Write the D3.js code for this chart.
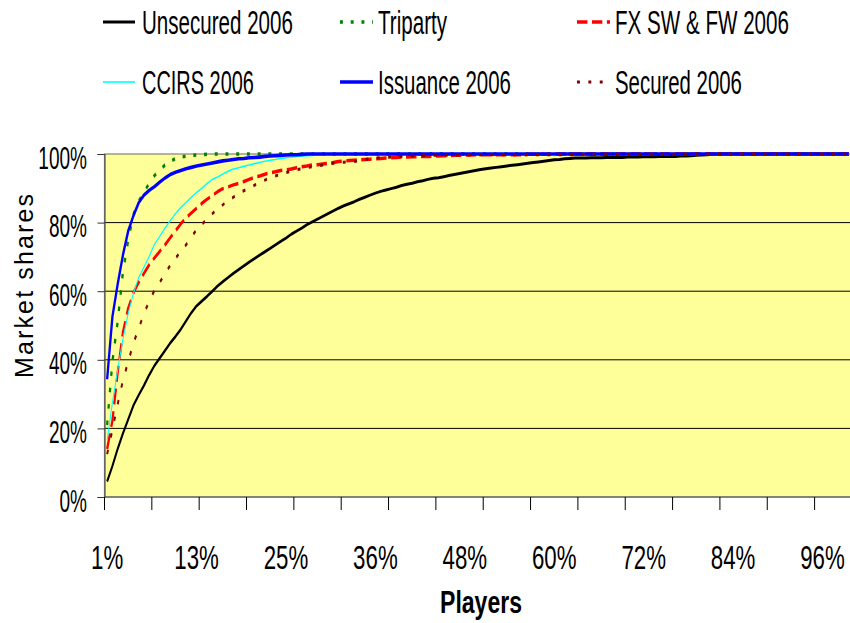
<!DOCTYPE html>
<html><head><meta charset="utf-8">
<script src="https://cdn.jsdelivr.net/npm/d3@7"></script>
<style>html,body{margin:0;padding:0;background:#fff}svg{display:block}</style>
</head><body>
<script>
// ---------------- DATA ----------------
const nCategories = 142;                       // player percentile categories
const categories = d3.range(1, nCategories + 1);
const tickLabelIndex = [1, 18, 35, 52, 69, 86, 103, 120, 137];
const tickLabels = ["1%", "13%", "25%", "36%", "48%", "60%", "72%", "84%", "96%"];
const yTickValues = [0, 20, 40, 60, 80, 100];
const yTickLabels = ["0%", "20%", "40%", "60%", "80%", "100%"];
const seriesNames = ["Unsecured 2006", "Triparty", "FX SW & FW 2006", "CCIRS 2006", "Issuance 2006", "Secured 2006"];

const unsecured = [4.5,9,14,18.5,22.6,26.7,29.7,32.5,35.6,38.3,
 40.5,42.7,44.9,46.8,48.9,51.3,53.7,55.7,57.1,58.5,
 60,61.5,62.8,64,65.2,66.3,67.4,68.5,69.5,70.5,
 71.5,72.5,73.5,74.5,75.5,76.6,77.5,78.4,79.4,80.2,
 81,81.8,82.6,83.4,84.2,84.9,85.5,86.1,86.8,87.4,
 88,88.6,89.1,89.5,89.9,90.3,90.8,91.2,91.5,91.9,
 92.2,92.6,92.9,93.1,93.4,93.7,94,94.3,94.6,94.9,
 95.2,95.5,95.7,95.9,96.1,96.3,96.5,96.7,96.9,97.1,
 97.3,97.5,97.7,97.9,98.1,98.3,98.4,98.6,98.7,98.8,
 98.8,98.8,98.9,98.9,98.9,99,99,99,99,99.1,
 99.1,99.1,99.2,99.2,99.2,99.3,99.3,99.3,99.3,99.4,
 99.4,99.5,99.6,99.7,99.8,99.9,100,100,100,100,
 100,100,100,100,100,100,100,100,100,100,
 100,100,100,100,100,100,100,100,100,100,
 100,100];

const triparty = [21,39.5,51,65.5,74.8,82.4,86.2,88.9,91.4,93.7,
 95.3,96.8,97.8,98.7,99.1,99.4,99.6,99.7,99.8,99.9,
 100,100,100,100,100,100,100,100,100,100,
 100,100,100,100,100,100,100,100,100,100,
 100,100,100,100,100,100,100,100,100,100,
 100,100,100,100,100,100,100,100,100,100,
 100,100,100,100,100,100,100,100,100,100,
 100,100,100,100,100,100,100,100,100,100,
 100,100,100,100,100,100,100,100,100,100,
 100,100,100,100,100,100,100,100,100,100,
 100,100,100,100,100,100,100,100,100,100,
 100,100,100,100,100,100,100,100,100,100,
 100,100,100,100,100,100,100,100,100,100,
 100,100,100,100,100,100,100,100,100,100,
 100,100];

const fxSwFw = [14,22.2,36.2,48,55,59.5,62.6,65.2,67.7,69.7,
 71.6,73.5,75.6,77.6,79.6,81.4,82.8,84.2,85.6,86.8,
 87.9,89,89.9,90.4,91,91.4,92,92.6,93.2,93.6,
 94.1,94.5,94.8,95.2,95.4,95.6,96,96.3,96.5,96.8,
 96.9,97.1,97.3,97.5,97.8,97.9,98.1,98.2,98.3,98.4,
 98.5,98.6,98.7,98.8,98.9,99,99.1,99.1,99.2,99.2,
 99.3,99.3,99.4,99.4,99.5,99.5,99.6,99.6,99.7,99.7,
 99.8,99.8,99.8,99.8,99.8,99.8,99.8,99.8,99.8,99.8,
 99.9,99.9,99.9,99.9,99.9,100,100,100,100,100,
 100,100,100,100,100,100,100,100,100,100,
 100,100,100,100,100,100,100,100,100,100,
 100,100,100,100,100,100,100,100,100,100,
 100,100,100,100,100,100,100,100,100,100,
 100,100,100,100,100,100,100,100,100,100,
 100,100];

const ccirs = [16.5,27.5,37,46,53.5,59.4,64,67,70.2,73.7,
 76,78.4,80.6,82.6,84.4,85.9,87.4,88.8,90,91.4,
 92.6,93.3,94.2,95,95.6,96,96.4,96.8,97.2,97.5,
 97.9,98.2,98.4,98.7,98.9,99.1,99.3,99.4,99.5,99.6,
 99.7,99.8,99.9,100,100,100,100,100,100,100,
 100,100,100,100,100,100,100,100,100,100,
 100,100,100,100,100,100,100,100,100,100,
 100,100,100,100,100,100,100,100,100,100,
 100,100,100,100,100,100,100,100,100,100,
 100,100,100,100,100,100,100,100,100,100,
 100,100,100,100,100,100,100,100,100,100,
 100,100,100,100,100,100,100,100,100,100,
 100,100,100,100,100,100,100,100,100,100,
 100,100,100,100,100,100,100,100,100,100,
 100,100];

const issuance = [34.3,52.5,62,70.5,77.5,82,85.8,88,89.4,90.5,
 91.8,93,94,94.7,95.2,95.7,96.1,96.5,96.8,97.1,
 97.4,97.7,98,98.2,98.4,98.6,98.7,98.9,99,99.1,
 99.3,99.4,99.5,99.6,99.7,99.8,99.8,99.9,100,100,
 100,100,100,100,100,100,100,100,100,100,
 100,100,100,100,100,100,100,100,100,100,
 100,100,100,100,100,100,100,100,100,100,
 100,100,100,100,100,100,100,100,100,100,
 100,100,100,100,100,100,100,100,100,100,
 100,100,100,100,100,100,100,100,100,100,
 100,100,100,100,100,100,100,100,100,100,
 100,100,100,100,100,100,100,100,100,100,
 100,100,100,100,100,100,100,100,100,100,
 100,100,100,100,100,100,100,100,100,100,
 100,100];

const secured = [12.5,19.5,27,34,39.4,44.9,49.1,53.5,57,60.3,
 62.5,65.2,67.5,69.6,71.6,73.5,75.8,77.9,79.5,81,
 82.6,84.1,85.2,86.4,87.4,88.6,89.3,90,90.9,91.7,
 92.4,93.1,93.6,94.1,94.6,95,95.4,95.7,96,96.3,
 96.5,96.8,97.1,97.3,97.5,97.6,97.7,97.8,98.1,98.4,
 98.6,98.8,98.9,99,99.1,99.2,99.3,99.4,99.4,99.5,
 99.5,99.6,99.6,99.6,99.6,99.7,99.7,99.7,99.7,99.7,
 99.8,99.8,99.8,99.8,99.8,99.8,99.8,99.8,99.8,99.8,
 99.8,99.8,99.8,99.8,99.8,99.8,99.8,99.8,99.8,99.8,
 99.9,99.9,99.9,99.9,99.9,99.9,99.9,99.9,99.9,99.9,
 99.9,99.9,99.9,99.9,99.9,99.9,99.9,99.9,99.9,99.9,
 100,100,100,100,100,100,100,100,100,100,
 100,100,100,100,100,100,100,100,100,100,
 100,100,100,100,100,100,100,100,100,100,
 100,100];

const seriesValues = [unsecured, triparty, fxSwFw, ccirs, issuance, secured];

// ---------------- STYLES / LAYOUT ----------------
const seriesStyles = [
  {color: "#000000", width: 3,   dash: null},
  {color: "#008000", width: 3.5, dash: "4.5,12"},
  {color: "#FF0000", width: 3.5, dash: "16,7"},
  {color: "#00FFFF", width: 1.6, dash: null},
  {color: "#0000FF", width: 3.6, dash: null},
  {color: "#800000", width: 3,   dash: "4.5,13"}
];
const legendPos = [
  {x1: 103, x2: 135, y: 22, tx: 142, ty: 33.5, tw: 151},
  {x1: 340, x2: 373, y: 22, tx: 378, ty: 33.5, tw: 69},
  {x1: 577, x2: 610, y: 22, tx: 615, ty: 33.5, tw: 174},
  {x1: 103, x2: 135, y: 82, tx: 142, ty: 94, tw: 112},
  {x1: 340, x2: 373, y: 82, tx: 378, ty: 94, tw: 133},
  {x1: 577, x2: 610, y: 82, tx: 615, ty: 94, tw: 127}
];
const FONT = "'Liberation Sans', Arial, sans-serif";
const W = 850, H = 623;
const SX = 0.65;                // horizontal squeeze used by the original rendering
const plot = {left: 104.5, top: 154, bottom: 497, right: 104.5 + nCategories * 5.26};

const svg = d3.select("body").append("svg").attr("width", W).attr("height", H);

// squeeze a text horizontally so it spans the given width
function fitText(t, x, y, width, anchor) {
  const natural = t.node().getComputedTextLength();
  const k = width / natural;
  t.attr("text-anchor", anchor).attr("transform", `translate(${x},${y}) scale(${k},1)`);
  return t;
}

const x = d3.scaleBand().domain(categories).range([plot.left, plot.right]).padding(0);
const xv = d3.scaleBand().domain(categories).range([plot.left / SX, plot.right / SX]).padding(0);
const y = d3.scaleLinear().domain([0, 100]).range([plot.bottom, plot.top]);

// plot background
svg.append("rect")
  .attr("x", plot.left).attr("y", plot.top)
  .attr("width", plot.right - plot.left).attr("height", plot.bottom - plot.top)
  .attr("fill", "#FFFF99").attr("stroke", "#808080").attr("stroke-width", 1.2);

// gridlines
svg.append("g").selectAll("line").data(yTickValues.filter(v => v > 0 && v < 100)).join("line")
  .attr("x1", plot.left).attr("x2", plot.right)
  .attr("y1", d => y(d)).attr("y2", d => y(d))
  .attr("stroke", "#000").attr("stroke-width", 1);

// y axis
const yAxis = svg.append("g").attr("transform", `translate(${plot.left},0)`)
  .call(d3.axisLeft(y).tickValues(yTickValues).tickSize(7).tickFormat(""));
yAxis.select(".domain").attr("stroke", "#555").attr("stroke-width", 1.2);
yAxis.selectAll(".tick line").attr("stroke", "#333");

// x axis
svg.append("line").attr("x1", plot.left).attr("x2", plot.right)
  .attr("y1", plot.bottom).attr("y2", plot.bottom).attr("stroke", "#555").attr("stroke-width", 1.2);
const xTickCats = categories.filter(c => (c - 1) % 9 === 0);
svg.append("g").selectAll("line").data(xTickCats).join("line")
  .attr("x1", d => x(d)).attr("x2", d => x(d))
  .attr("y1", plot.bottom).attr("y2", plot.bottom + 13)
  .attr("stroke", "#000").attr("stroke-width", 1);

// x tick labels
svg.append("g").selectAll("text").data(tickLabels).join("text")
  .attr("transform", (d, i) => `translate(${x(tickLabelIndex[i]) + x.bandwidth() / 2},569) scale(0.655,1)`)
  .attr("text-anchor", "middle").attr("font-family", FONT).attr("font-size", 34)
  .attr("fill", "#000").text(d => d);

// y tick labels
svg.append("g").selectAll("text").data(yTickLabels).join("text")
  .attr("transform", (d, i) => `translate(87,${y(yTickValues[i]) + 14.5}) scale(0.595,1)`)
  .attr("text-anchor", "end").attr("font-family", FONT).attr("font-size", 32)
  .attr("fill", "#000").text(d => d);

// axis titles
svg.append("text")
  .attr("transform", "translate(33.3,286) rotate(-90)")
  .attr("text-anchor", "middle").attr("font-family", FONT).attr("font-size", 25)
  .attr("textLength", 184).attr("lengthAdjust", "spacing")
  .text("Market shares");
const playersTitle = svg.append("text")
  .attr("font-family", FONT).attr("font-size", 32).attr("font-weight", "bold")
  .text("Players");
fitText(playersTitle, 481, 613, 82, "middle");

// series lines (drawn in a horizontally squeezed frame)
const lines = svg.append("g").attr("transform", `scale(${SX},1)`);
const lineGen = d3.line()
  .x((d, i) => xv(categories[i]) + xv.bandwidth() / 2)
  .y(d => y(d));
seriesValues.forEach((vals, k) => {
  const s = seriesStyles[k];
  lines.append("path").datum(vals)
    .attr("d", lineGen)
    .attr("fill", "none")
    .attr("stroke", s.color)
    .attr("stroke-width", s.width)
    .attr("stroke-linejoin", "round")
    .attr("stroke-dasharray", s.dash);
});

// legend
const legLines = svg.append("g").attr("transform", `scale(${SX},1)`);
seriesNames.forEach((name, k) => {
  const p = legendPos[k], s = seriesStyles[k];
  legLines.append("line")
    .attr("x1", p.x1 / SX).attr("x2", p.x2 / SX).attr("y1", p.y).attr("y2", p.y)
    .attr("stroke", s.color).attr("stroke-width", s.width)
    .attr("stroke-dasharray", s.dash);
  const t = svg.append("text")
    .attr("font-family", FONT).attr("font-size", 33)
    .attr("fill", "#000").text(name);
  fitText(t, p.tx, p.ty, p.tw, "start");
});
</script>
</body></html>
